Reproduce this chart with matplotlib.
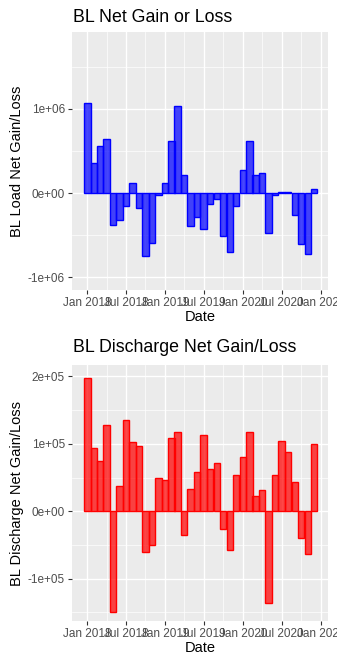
import pandas as pd
import numpy as np
import matplotlib
matplotlib.use('Agg')
import matplotlib.pyplot as plt
import matplotlib.dates as mdates

plt.rcParams['font.family'] = ['Liberation Sans', 'DejaVu Sans']

# Monthly net gain / loss, Jan 2018 - Dec 2020
months = pd.date_range('2018-01-01', periods=36, freq='MS')

load_net = [1.067e6, 0.356e6, 0.561e6, 0.640e6, -0.379e6, -0.324e6,
            -0.150e6, 0.123e6, -0.182e6, -0.751e6, -0.593e6, -0.020e6,
            0.123e6, 0.617e6, 1.030e6, 0.213e6, -0.387e6, -0.285e6,
            -0.427e6, -0.126e6, -0.071e6, -0.510e6, -0.696e6, -0.150e6,
            0.277e6, 0.620e6, 0.213e6, 0.241e6, -0.474e6, -0.024e6,
            0.016e6, 0.016e6, -0.257e6, -0.609e6, -0.727e6, 0.043e6]

discharge_net = [1.98e5, 0.94e5, 0.74e5, 1.28e5, -1.495e5, 0.38e5,
                 1.35e5, 1.02e5, 0.97e5, -0.61e5, -0.50e5, 0.50e5,
                 0.46e5, 1.09e5, 1.17e5, -0.35e5, 0.33e5, 0.58e5,
                 1.13e5, 0.62e5, 0.72e5, -0.27e5, -0.57e5, 0.53e5,
                 0.80e5, 1.17e5, 0.23e5, 0.31e5, -1.37e5, 0.54e5,
                 1.04e5, 0.88e5, 0.43e5, -0.40e5, -0.64e5, 1.00e5]

x_major = pd.to_datetime(['2018-01-01', '2018-07-01', '2019-01-01', '2019-07-01',
                          '2020-01-01', '2020-07-01', '2021-01-01'])
x_labels = ['Jan 2018', 'Jul 2018', 'Jan 2019', 'Jul 2019', 'Jan 2020', 'Jul 2020', 'Jan 2021']

top_ticks = [-1e6, 0, 1e6]
top_labels = ['-1e+06', '0e+00', '1e+06']
bot_ticks = [-1e5, 0, 1e5, 2e5]
bot_labels = ['-1e+05', '0e+00', '1e+05', '2e+05']


def gg_axes(ax, yticks, ylabels, ylim):
    ax.set_facecolor('#EBEBEB')
    for s in ax.spines.values():
        s.set_visible(False)
    xm = mdates.date2num(x_major)
    ax.set_xlim(mdates.date2num(pd.Timestamp('2017-10-21')),
                mdates.date2num(pd.Timestamp('2021-02-04')))
    ax.set_ylim(*ylim)
    ax.set_xticks(xm)
    ax.set_xticklabels(x_labels)
    ax.set_xticks((xm[:-1] + xm[1:]) / 2, minor=True)
    ax.set_yticks(yticks)
    ax.set_yticklabels(ylabels)
    yt = np.array(yticks)
    step = yt[1] - yt[0]
    minors = np.arange(yt[0] - step / 2, ylim[1], step)
    ax.set_yticks([m for m in minors if ylim[0] < m < ylim[1]], minor=True)
    ax.grid(which='major', color='white', linewidth=1.0)
    ax.grid(which='minor', color='white', linewidth=0.5)
    ax.set_axisbelow(True)
    ax.tick_params(which='major', length=3, width=0.8, color='#333333',
                   labelsize=8.5, labelcolor='#4D4D4D', pad=2)
    ax.tick_params(which='minor', length=0)
    ax.set_xlabel('Date', fontsize=10.5, labelpad=1)


fig = plt.figure(figsize=(3.37, 6.57), dpi=100)

ax1 = fig.add_axes([72 / 337, 1 - 290 / 657, 256 / 337, 258 / 657])
ax1.bar(months, load_net, width=30, align='center',
        color=(0, 0, 1, 0.72), edgecolor='blue', linewidth=1.0)
gg_axes(ax1, top_ticks, top_labels, (-1.15e6, 1.91e6))
ax1.set_ylabel('BL Load Net Gain/Loss', fontsize=10.5, labelpad=3)
fig.text(73 / 337, 1 - 17 / 657, 'BL Net Gain or Loss', fontsize=12.8,
         ha='left', va='center')

ax2 = fig.add_axes([72 / 337, 1 - 621 / 657, 256 / 337, 256 / 657])
ax2.bar(months, discharge_net, width=30, align='center',
        color=(1, 0, 0, 0.72), edgecolor='red', linewidth=1.0)
gg_axes(ax2, bot_ticks, bot_labels, (-1.63e5, 2.17e5))
ax2.set_ylabel('BL Discharge Net Gain/Loss', fontsize=10.5, labelpad=3)
fig.text(73 / 337, 1 - 348 / 657, 'BL Discharge Net Gain/Loss', fontsize=12.8,
         ha='left', va='center')

fig.savefig('out.png', dpi=100)
plt.close(fig)
